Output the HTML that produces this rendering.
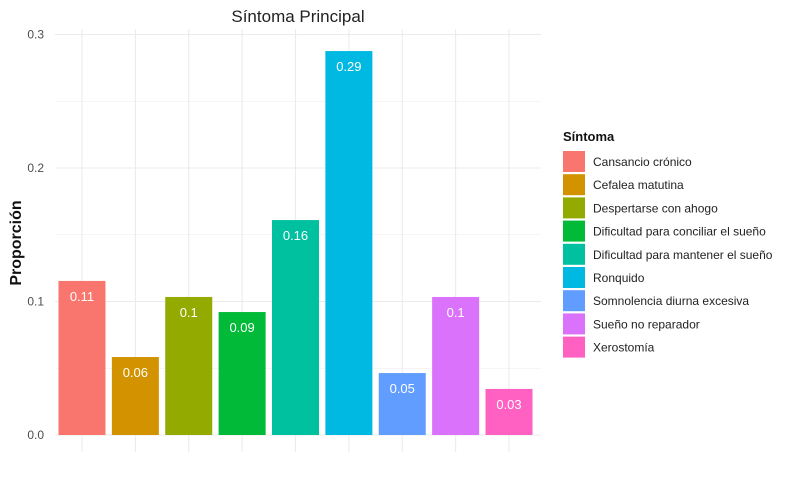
<!DOCTYPE html>
<html><head><meta charset="utf-8">
<style>
body{margin:0;background:#fff;font-family:"Liberation Sans",Arial,sans-serif;}
svg text{font-family:"Liberation Sans",Arial,sans-serif;}
</style></head>
<body>
<svg id="chart" width="794" height="485" xmlns="http://www.w3.org/2000/svg">
<rect width="794" height="485" fill="#fff"/>
<g id="grid"></g>
<g id="bars"></g>
<g id="labels"></g>
<g id="yaxis"></g>
<text x="298" y="22" font-size="17" text-anchor="middle" fill="#222">Síntoma Principal</text>
<text x="0" y="0" font-size="16" font-weight="bold" text-anchor="middle" fill="#111" transform="translate(21,243) rotate(-90)">Proporción</text>
<g id="legend"></g>
</svg>
<script>
const categories=["Cansancio crónico","Cefalea matutina","Despertarse con ahogo","Dificultad para conciliar el sueño","Dificultad para mantener el sueño","Ronquido","Somnolencia diurna excesiva","Sueño no reparador","Xerostomía"];
const values=[0.1154,0.0584,0.1034,0.0921,0.161,0.2876,0.0464,0.1034,0.0345];
const valueLabels=["0.11","0.06","0.1","0.09","0.16","0.29","0.05","0.1","0.03"];
const yTicks=[0,0.1,0.2,0.3];
const yTickLabels=["0.0","0.1","0.2","0.3"];
const colors=["#F8766D","#D39200","#93AA00","#00BA38","#00C19F","#00B9E3","#619CFF","#DB72FB","#FF61C3"];
const NS="http://www.w3.org/2000/svg";
const x0=55.3,x1=535.7,gridRight=541,yBase=435,pxPer=1335;
const step=(x1-x0)/categories.length;
const xc=i=>x0+step*(i+0.5);
const y=v=>yBase-v*pxPer;
const bw=47;
function mk(tag,attrs,parent){const e=document.createElementNS(NS,tag);for(const k in attrs)e.setAttribute(k,attrs[k]);document.getElementById(parent).appendChild(e);return e;}
for(let v=0;v<=0.3001;v+=0.05){
  const g=mk('line',{x1:55,x2:gridRight,y1:y(v),y2:y(v),stroke:'#ebebeb','stroke-width':Math.round(v*100)%10===0?1.1:0.6},'grid');
  
  
}
categories.forEach((c,i)=>{
  const g=mk('line',{x1:xc(i),x2:xc(i),y1:y(0.3)-5,y2:yBase+17,stroke:'#ebebeb','stroke-width':1.1},'grid');
  
  
});
yTicks.forEach((t,i)=>{
  const tx=mk('text',{x:44,y:y(t)+4,'font-size':12,'text-anchor':'end',fill:'#4d4d4d'},'yaxis');
  tx.textContent=yTickLabels[i];
  
  
});
values.forEach((v,i)=>{
  const r=mk('rect',{x:xc(i)-bw/2,y:y(v),width:bw,height:yBase-y(v),fill:colors[i]},'bars');
  
  
  const t=mk('text',{x:xc(i),y:y(v)+20,'font-size':13,'text-anchor':'middle',fill:'#fff'},'labels');
  t.textContent=valueLabels[i];
  
  
});
const lt=mk('text',{x:563,y:141,'font-size':13,'font-weight':'bold',fill:'#111'},'legend');
lt.textContent="Síntoma";


categories.forEach((c,i)=>{
  const yy=151+i*23.2;
  const k=mk('rect',{x:563,y:yy,width:22,height:21,fill:colors[i]},'legend');
  
  
  const t=mk('text',{x:593,y:yy+15,'font-size':12,fill:'#222'},'legend');
  t.textContent=c;
  
  
});
</script>
</body></html>
